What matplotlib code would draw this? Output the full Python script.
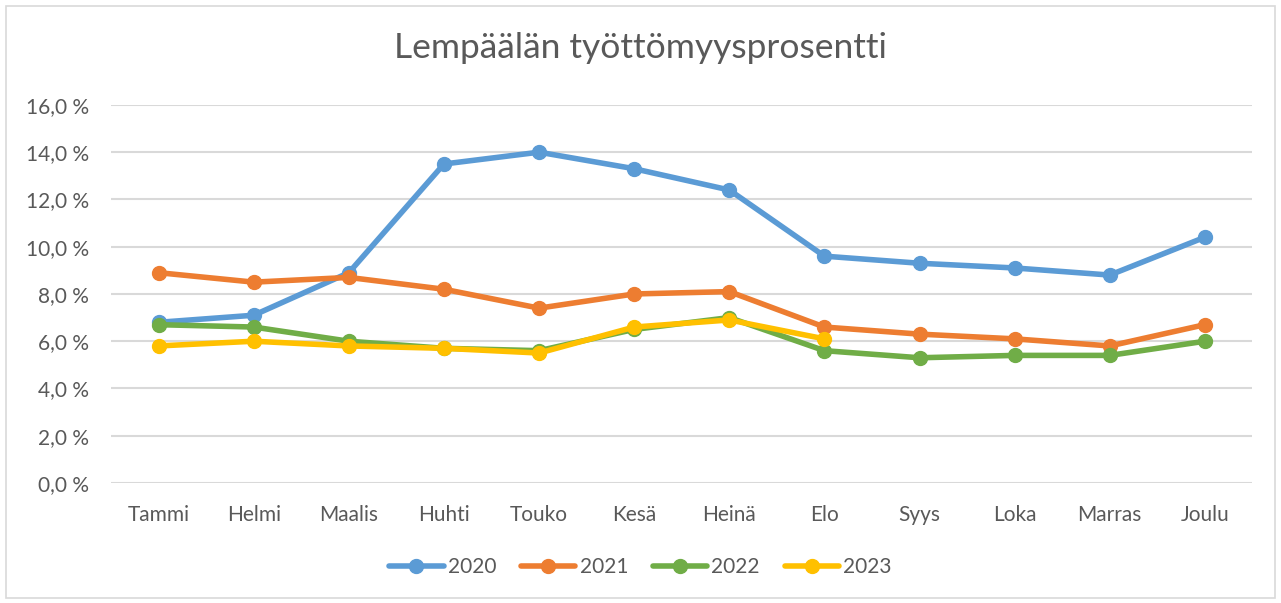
import matplotlib
matplotlib.use('Agg')
import matplotlib.pyplot as plt
from matplotlib.patches import Rectangle
from matplotlib.ticker import FuncFormatter

months = ['Tammi', 'Helmi', 'Maalis', 'Huhti', 'Touko', 'Kesä',
          'Heinä', 'Elo', 'Syys', 'Loka', 'Marras', 'Joulu']

y2020 = [6.8, 7.1, 8.9, 13.5, 14.0, 13.3, 12.4, 9.6, 9.3, 9.1, 8.8, 10.4]
y2021 = [8.9, 8.5, 8.7, 8.2, 7.4, 8.0, 8.1, 6.6, 6.3, 6.1, 5.8, 6.7]
y2022 = [6.7, 6.6, 6.0, 5.7, 5.6, 6.5, 7.0, 5.6, 5.3, 5.4, 5.4, 6.0]
y2023 = [5.8, 6.0, 5.8, 5.7, 5.5, 6.6, 6.9, 6.1]

series = [('2020', y2020, '#5B9BD5'),
          ('2021', y2021, '#ED7D31'),
          ('2022', y2022, '#70AD47'),
          ('2023', y2023, '#FFC000')]

plt.rcParams['font.family'] = ['Lato', 'DejaVu Sans']
textColor = '#595959'

fig = plt.figure(figsize=(12.81, 6.03), dpi=100)
fig.patches.append(Rectangle((0.005, 0.008), 0.99, 0.982, transform=fig.transFigure,
                             fill=False, edgecolor='#D9D9D9', linewidth=1.2))

ax = fig.add_axes([0.0867, 0.199, 0.891, 0.627])

for name, values, color in series:
    ax.plot(range(len(values)), values, color=color, linewidth=4,
            marker='o', markersize=10, label=name, solid_capstyle='round')

ax.set_xlim(-0.5, len(months) - 0.5)
ax.set_ylim(0, 16)
ax.set_yticks([i * 2 for i in range(9)])
ax.yaxis.set_major_formatter(FuncFormatter(lambda v, p: f'{v:.1f} %'.replace('.', ',')))
ax.set_xticks(range(len(months)))
ax.set_xticklabels(months)
ax.tick_params(axis='both', length=0, labelsize=15, colors=textColor)
ax.tick_params(axis='x', pad=16)
ax.tick_params(axis='y', pad=16)
ax.grid(axis='y', color='#D9D9D9', linewidth=1.5)
ax.set_axisbelow(True)
for spine in ax.spines.values():
    spine.set_visible(False)

fig.text(0.5, 0.92, 'Lempäälän työttömyysprosentti', ha='center', va='center',
         fontsize=25.5, color=textColor)

fig.legend(loc='center', bbox_to_anchor=(0.5, 0.06), ncol=4, frameon=False,
           fontsize=15, labelcolor=textColor, handlelength=2.6, handletextpad=0.2,
           columnspacing=1.2)

fig.savefig('out.png', dpi=100)
